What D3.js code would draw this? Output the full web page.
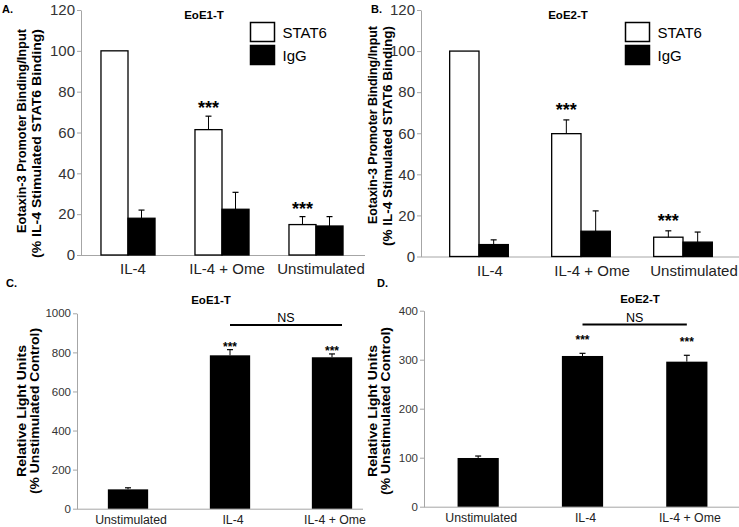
<!DOCTYPE html>
<html>
<head>
<meta charset="utf-8">
<script src="https://cdn.jsdelivr.net/npm/d3@7"></script>
<style>
  body { margin: 0; background: #fff; }
  svg { display: block; }
</style>
</head>
<body>
<div id="chart"></div>
<script>
"use strict";

// ---- data ----
var groupsAB = ["IL-4", "IL-4 + Ome", "Unstimulated"];
var seriesAB = ["STAT6", "IgG"];
var ticksAB = [0, 20, 40, 60, 80, 100, 120];

// A. EoE1-T ChIP
var stat6E1 = [100, 61.4, 14.9];
var stat6E1Err = [0, 6.6, 3.9];
var iggE1 = [18, 22.4, 14.2];
var iggE1Err = [4, 8.3, 4.6];

// B. EoE2-T ChIP
var stat6E2 = [100, 59.8, 9.4];
var stat6E2Err = [0, 6.7, 3.1];
var iggE2 = [5.8, 12.3, 7.0];
var iggE2Err = [2.3, 9.9, 4.9];

var sigAB = ["", "***", "***"];

var groupsCD = ["Unstimulated", "IL-4", "IL-4 + Ome"];
// C. EoE1-T luciferase
var rluE1 = [99, 785, 775];
var rluE1Err = [8, 29, 17];
var ticksC = [0, 200, 400, 600, 800, 1000];
// D. EoE2-T luciferase
var rluE2 = [99.4, 307.6, 296];
var rluE2Err = [4, 5.4, 13];
var ticksD = [0, 100, 200, 300, 400];

var sigCD = ["", "***", "***"];

// ---- drawing ----
var NARROW = "'Liberation Sans Narrow','Arial Narrow',sans-serif";
var SANS = "'Liberation Sans',Arial,Helvetica,sans-serif";
var AXIS = "#a6a6a6";

var svg = d3.select("#chart").append("svg")
  .attr("width", 739).attr("height", 527);

function text(x, y, s, size, weight, family, anchor) {
  return svg.append("text")
    .attr("x", x).attr("y", y)
    .attr("font-family", family || SANS)
    .attr("font-size", size)
    .attr("font-weight", weight || "normal")
    .attr("text-anchor", anchor || "start")
    .attr("fill", "#000")
    .text(s);
}

// rotated axis titles, nudged to the measured length
// (cy is the centre of the line along the axis)
function yTitle(x, cy, s, len) {
  svg.append("text")
    .attr("transform", "translate(" + x + "," + cy + ") rotate(-90)")
    .attr("font-family", SANS)
    .attr("font-size", 13.5)
    .attr("font-weight", "bold")
    .attr("text-anchor", "middle")
    .attr("dominant-baseline", "central")
    .attr("textLength", len)
    .attr("lengthAdjust", "spacingAndGlyphs")
    .text(s);
}

function leftAxis(y, ax, ticks, size, family) {
  var g = svg.append("g")
    .attr("transform", "translate(" + ax + ",0)")
    .call(d3.axisLeft(y).tickValues(ticks).tickFormat(d3.format("d"))
      .tickSize(4).tickSizeOuter(0).tickPadding(2));
  g.select(".domain").attr("stroke", AXIS);
  g.selectAll(".tick line").attr("stroke", AXIS);
  g.selectAll(".tick text")
    .attr("font-family", family).attr("font-size", size).attr("fill", "#333");
  return g;
}

function categoryAxis(x, y0, lineX0, lineX1, size, family, dx, base) {
  svg.append("line")
    .attr("x1", lineX0).attr("x2", lineX1)
    .attr("y1", y0 + 0.5).attr("y2", y0 + 0.5)
    .attr("stroke", AXIS);
  var g = svg.append("g")
    .attr("transform", "translate(0," + y0 + ")")
    .call(d3.axisBottom(x).tickSize(0));
  g.select(".domain").remove();
  g.selectAll(".tick text")
    .attr("y", base).attr("dy", 0).attr("dx", dx)
    .attr("font-family", family).attr("font-size", size).attr("fill", "#222");
}

function errorBar(cx, y, v, e) {
  if (!e) return;
  svg.append("line")
    .attr("x1", cx).attr("x2", cx)
    .attr("y1", y(v)).attr("y2", y(v + e))
    .attr("stroke", "#000").attr("stroke-width", 1);
  svg.append("line")
    .attr("x1", cx - 3).attr("x2", cx + 3)
    .attr("y1", y(v + e)).attr("y2", y(v + e))
    .attr("stroke", "#000").attr("stroke-width", 1.2);
}

// grouped STAT6 / IgG panels (A, B)
function chipPanel(o) {
  var y = d3.scaleLinear().domain([0, 120]).range([o.y0, o.y1]);
  var x0 = d3.scaleBand().domain(groupsAB).range(o.xr);
  var gw = x0.bandwidth() * 0.575;
  var x1 = d3.scaleBand().domain(seriesAB).range([0, gw]);
  var values = { STAT6: o.stat6, IgG: o.igg };
  var errs = { STAT6: o.stat6Err, IgG: o.iggErr };

  leftAxis(y, o.ax, ticksAB, 15, NARROW);
  categoryAxis(x0, o.y0, o.ax, o.axEnd, 15, NARROW, o.labelDx, 19);

  groupsAB.forEach(function (grp, i) {
    var gx = x0(grp) + (x0.bandwidth() - gw) / 2;
    seriesAB.forEach(function (s) {
      var v = values[s][i];
      svg.append("rect")
        .attr("x", gx + x1(s)).attr("y", y(v))
        .attr("width", x1.bandwidth()).attr("height", o.y0 - y(v))
        .attr("fill", s === "STAT6" ? "#fff" : "#000")
        .attr("stroke", "#000").attr("stroke-width", 1.3);
    });
    seriesAB.forEach(function (s) {
      errorBar(gx + x1(s) + x1.bandwidth() / 2, y, values[s][i], errs[s][i]);
    });
    if (sigAB[i]) {
      text(gx + x1("STAT6") + x1.bandwidth() / 2,
           y(o.stat6[i] + o.stat6Err[i]) + o.sigDy, sigAB[i], 18, "bold", SANS, "middle");
    }
  });

  // legend
  seriesAB.forEach(function (s, i) {
    svg.append("rect")
      .attr("x", o.legX).attr("y", 22.5 + i * 23)
      .attr("width", 24).attr("height", 19)
      .attr("fill", s === "STAT6" ? "#fff" : "#000")
      .attr("stroke", "#000").attr("stroke-width", 1.5);
    text(o.legX + 32, 32 + i * 23, s, 15, "normal", NARROW)
      .attr("dominant-baseline", "central");
  });

  text(o.titleX, 19, o.title, 11.5, "bold", SANS, "middle");
  text(o.letterX, 13, o.letter, 11, "bold", SANS);
  // both title lines start (top) at the same height
  yTitle(o.t1x, o.tTop + o.t1len / 2, "Eotaxin-3 Promoter Binding/Input", o.t1len);
  yTitle(o.t2x, o.tTop + o.t2len / 2, "(% IL-4 Stimulated STAT6 Binding)", o.t2len);
}

// single series luciferase panels (C, D)
function rluPanel(o) {
  var y = d3.scaleLinear().domain(o.yDomain).range([o.y0, o.y1]);
  var x = d3.scaleBand().domain(groupsCD).range(o.xr);
  var bw = x.bandwidth() * 0.395;

  leftAxis(y, o.ax, o.ticks, 11.5, SANS);
  categoryAxis(x, o.y0, o.ax, o.axEnd, 12.3, SANS, 3, 15);

  groupsCD.forEach(function (grp, i) {
    var cx = x(grp) + x.bandwidth() / 2;
    var v = o.vals[i];
    svg.append("rect")
      .attr("x", cx - bw / 2).attr("y", y(v))
      .attr("width", bw).attr("height", o.y0 - y(v))
      .attr("fill", "#000");
    errorBar(cx, y, v, o.errs[i]);
    if (sigCD[i]) {
      text(cx, y(v + o.errs[i]) + o.sigDy, sigCD[i], 12, "bold", SANS, "middle");
    }
  });

  // NS bracket between the two IL-4 groups
  var c1 = x("IL-4") + x.bandwidth() / 2;
  var c2 = x("IL-4 + Ome") + x.bandwidth() / 2;
  svg.append("line")
    .attr("x1", c1).attr("x2", c2 + o.nsExtra)
    .attr("y1", o.nsY).attr("y2", o.nsY)
    .attr("stroke", "#000").attr("stroke-width", 2);
  text((c1 + c2 + o.nsExtra) / 2, o.nsY - 3, "NS", 12.5, "normal", SANS, "middle");

  text(o.titleX, o.titleY, o.title, 11.5, "bold", SANS, "middle");
  text(o.letterX, 287, o.letter, 11, "bold", SANS);
  yTitle(o.t1x, 411, "Relative Light Units", o.t1len);
  yTitle(o.t2x, 411, "(% Unstimulated Control)", o.t2len);
}

chipPanel({
  letter: "A.", letterX: 2, title: "EoE1-T", titleX: 204,
  y0: 255, y1: 10, ax: 81, axEnd: 365, xr: [81, 363],
  stat6: stat6E1, stat6Err: stat6E1Err, igg: iggE1, iggErr: iggE1Err,
  labelDx: 5, sigDy: -2, legX: 250.5,
  t1x: 21, t2x: 36.5, tTop: 29, t1len: 204, t2len: 229
});

chipPanel({
  letter: "B.", letterX: 371, title: "EoE2-T", titleX: 568,
  y0: 256.5, y1: 10, ax: 421, axEnd: 739, xr: [428, 734],
  stat6: stat6E2, stat6Err: stat6E2Err, igg: iggE2, iggErr: iggE2Err,
  labelDx: 11, sigDy: -4, legX: 625.5,
  t1x: 372, t2x: 387.5, tTop: 26, t1len: 198, t2len: 220
});

rluPanel({
  letter: "C.", letterX: 6, title: "EoE1-T", titleX: 211, titleY: 304,
  yDomain: [0, 1000], ticks: ticksC, y0: 508.7, y1: 313.3,
  ax: 77, axEnd: 363, xr: [77, 383],
  vals: rluE1, errs: rluE1Err, sigDy: 1, nsY: 325, nsExtra: 10,
  t1x: 21, t2x: 34.5, t1len: 132, t2len: 166
});

rluPanel({
  letter: "D.", letterX: 377, title: "EoE2-T", titleX: 640, titleY: 303,
  yDomain: [0, 400], ticks: ticksD, y0: 506.7, y1: 310.7,
  ax: 424, axEnd: 739, xr: [426, 739],
  vals: rluE2, errs: rluE2Err, sigDy: -9, nsY: 324.5, nsExtra: 0,
  t1x: 372, t2x: 385.5, t1len: 132, t2len: 168
});
</script>
</body>
</html>
